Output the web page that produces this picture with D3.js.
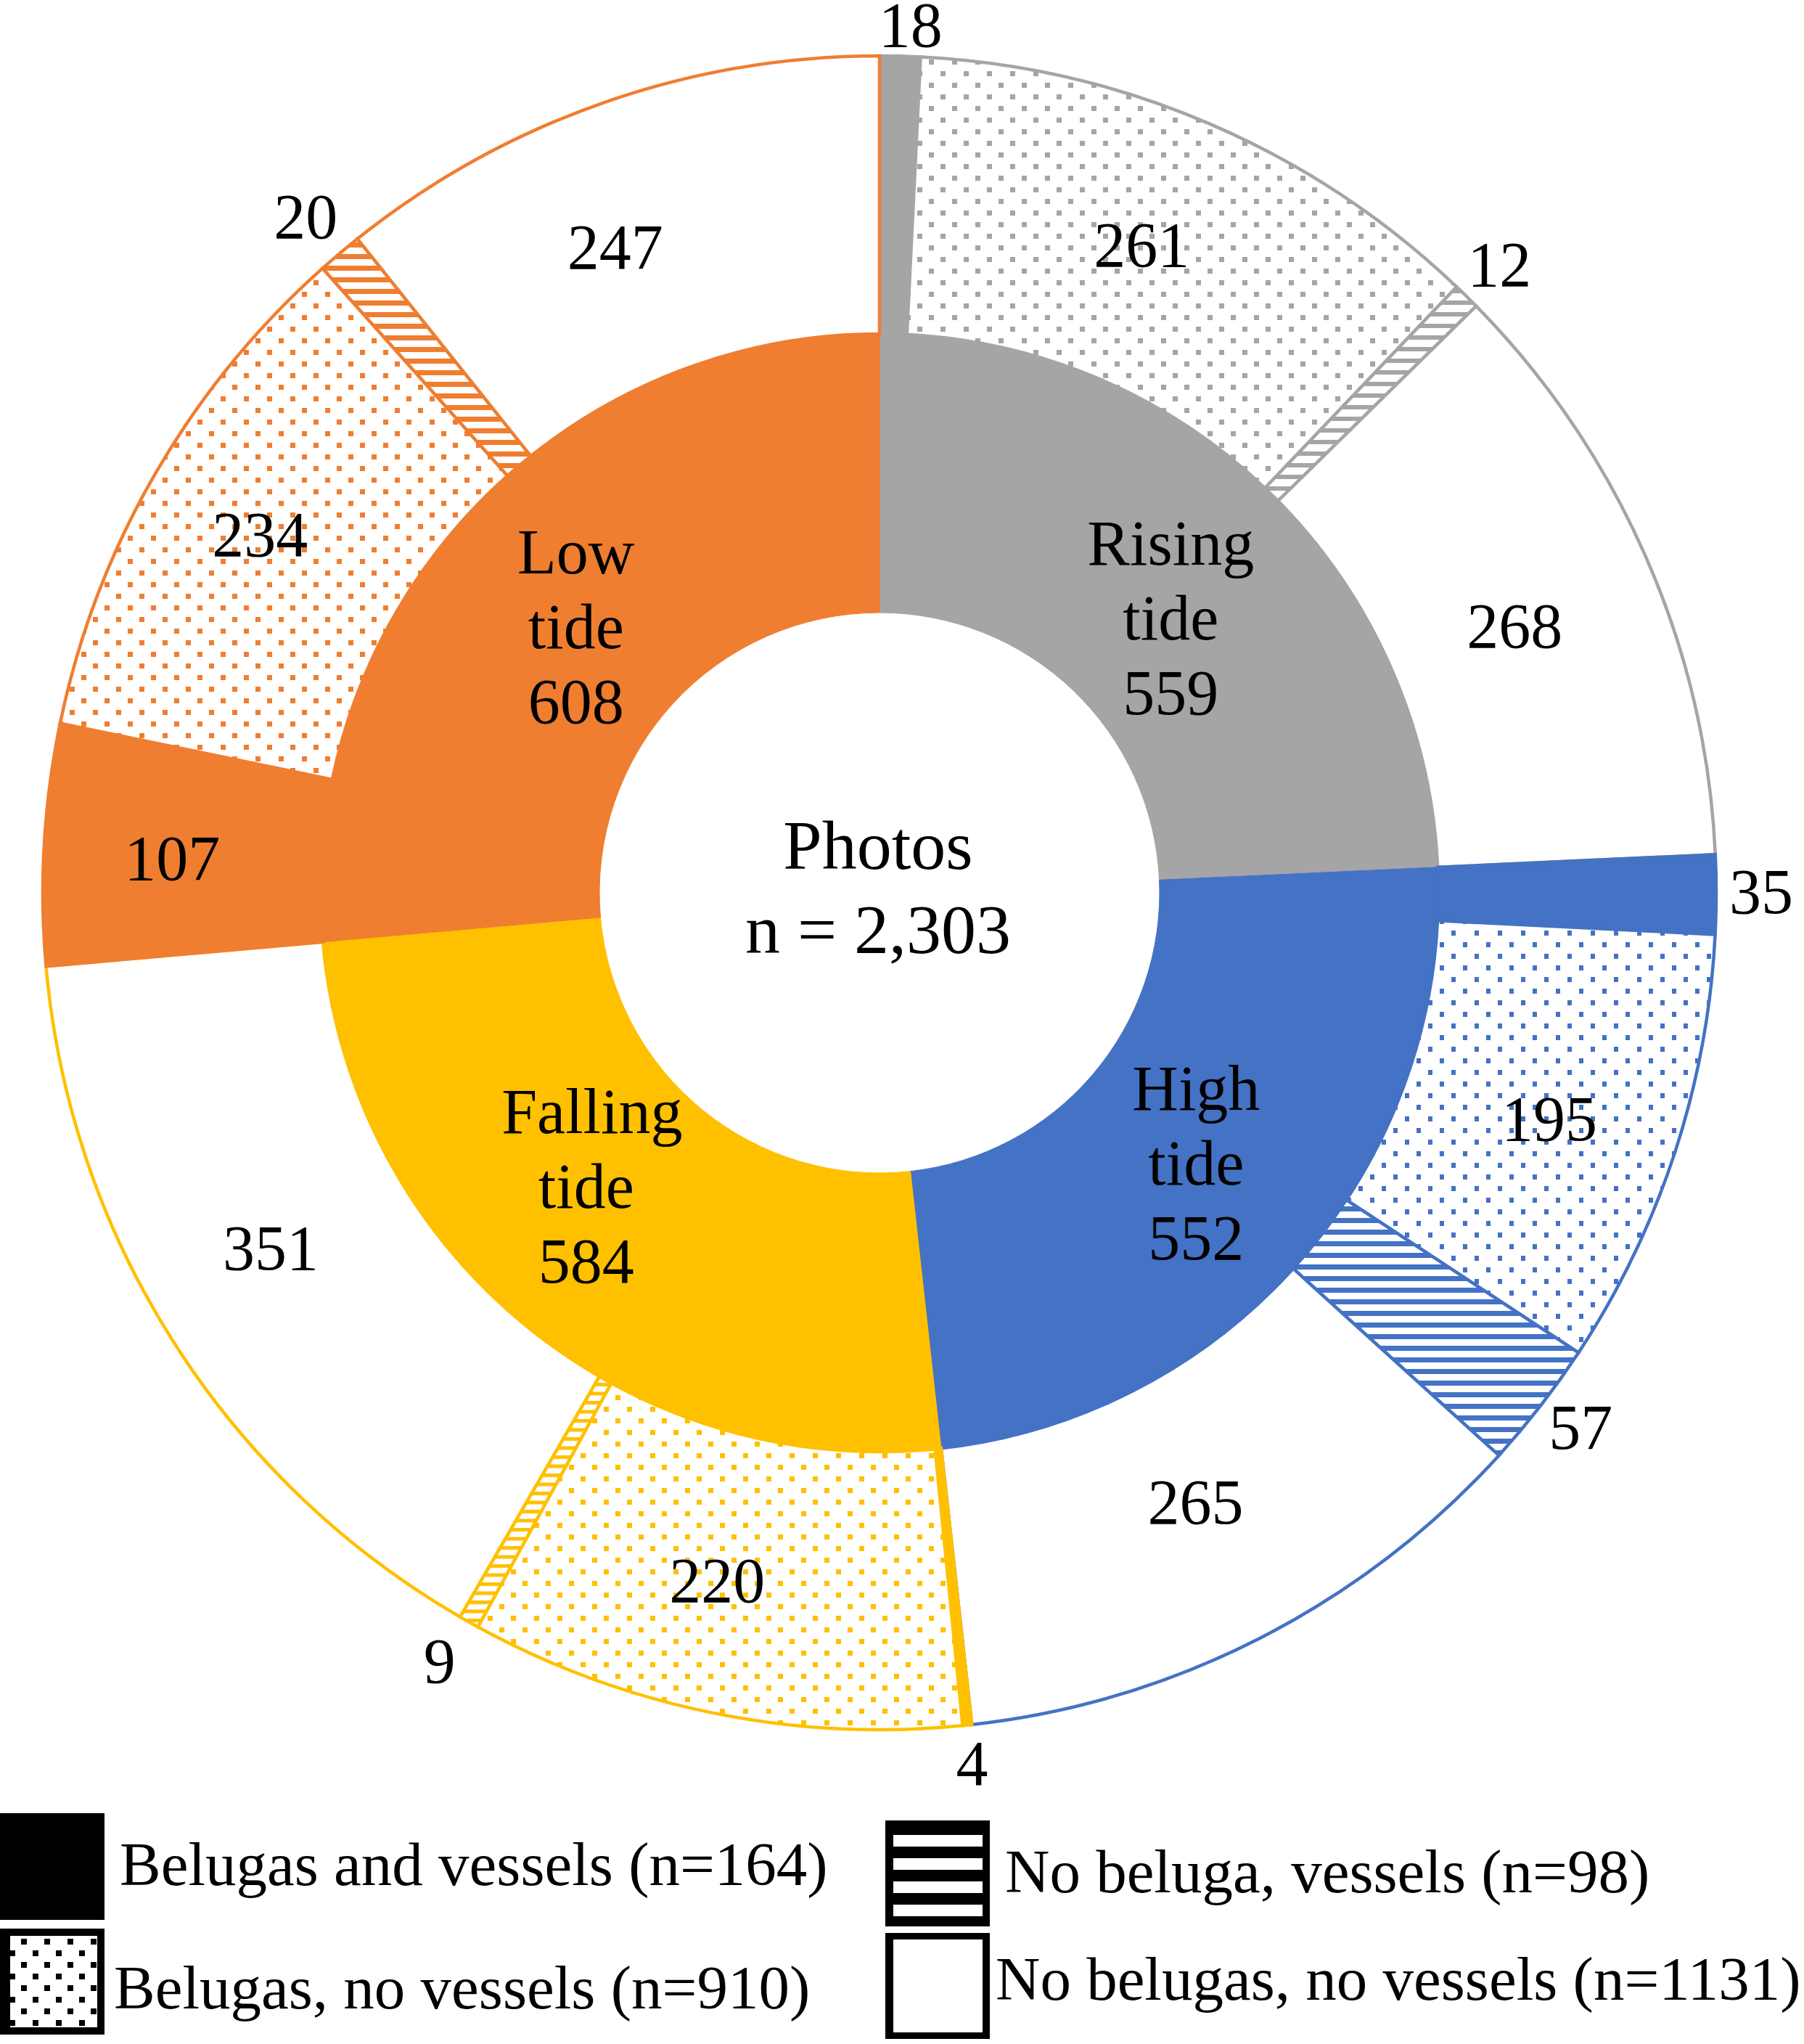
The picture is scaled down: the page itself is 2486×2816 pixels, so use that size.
<!DOCTYPE html>
<html><head><meta charset="utf-8">
<script src="https://cdn.jsdelivr.net/npm/d3@7"></script>
<style>html,body{margin:0;padding:0;background:#fff;} svg{display:block;}</style>
</head><body>
<svg id="chart" width="2486" height="2816"></svg>
<script>
// ---------- DATA ----------
const tides = ["Rising tide", "High tide", "Falling tide", "Low tide"];
const tideTotals = [559, 552, 584, 608];
const categories = ["Belugas and vessels", "Belugas, no vessels", "No beluga, vessels", "No belugas, no vessels"];
const belugasAndVessels  = [18, 35, 4, 107];
const belugasNoVessels   = [261, 195, 220, 234];
const noBelugaVessels    = [12, 57, 9, 20];
const noBelugasNoVessels = [268, 265, 351, 247];
const centerTitle = "Photos";

// ---------- STYLE / LAYOUT ----------
const tideColors = ["#A5A5A5", "#4472C4", "#FFC000", "#EF7E30"];
const W = 2486, H = 2816;
const cx = 1212, cy = 1230;
const rHole = 386, rMid = 770, rOuter = 1153;
const labelFont = "'Liberation Serif','Times New Roman',serif";
const labelSize = 88, lineH = 103;
// nudges of the label anchors (dx, dy), relative to the computed position
const innerLabelNudge = [[2, 39], [-3, -3], [-38, -43], [8, 24]];
const innerLineShift = [[0, 0, 0], [0, 0, 0], [8, 0, 0], [0, 0, 0]];
const outerLabelNudge = [
  [13, 19], [-18, -8], [2, 0], [-7, 17],
  [0, -4], [8, 12], [6, -8], [-2, -18],
  [0, -9], [-32, 4], [-10, 0], [-27, -28],
  [-14, 8], [-20, -13], [-7, -3], [-46, 19]
];
const stripePeriod = [16, 16, 12.5, 16];
const stripeThick = [6, 7, 5, 7];
const dotSize = [[7, 7], [6, 7], [7, 7], [7, 7]];

const series = [belugasAndVessels, belugasNoVessels, noBelugaVessels, noBelugasNoVessels];

const svg = d3.select("#chart");
svg.append("rect").attr("width", W).attr("height", H).attr("fill", "#fff");
const defs = svg.append("defs");

tideColors.forEach((col, i) => {
  const pd = defs.append("pattern").attr("id", "dots" + i)
    .attr("patternUnits", "userSpaceOnUse").attr("width", 32).attr("height", 32);
  pd.append("rect").attr("width", 32).attr("height", 32).attr("fill", "#fff");
  pd.append("rect").attr("x", 4).attr("y", 4).attr("width", dotSize[i][0]).attr("height", dotSize[i][1]).attr("fill", col);
  pd.append("rect").attr("x", 20).attr("y", 20).attr("width", dotSize[i][0]).attr("height", dotSize[i][1]).attr("fill", col);

  const p = stripePeriod[i];
  const ps = defs.append("pattern").attr("id", "stripes" + i)
    .attr("patternUnits", "userSpaceOnUse").attr("width", 32).attr("height", p);
  ps.append("rect").attr("width", 32).attr("height", p).attr("fill", "#fff");
  ps.append("rect").attr("y", 0).attr("width", 32).attr("height", stripeThick[i]).attr("fill", col);
});

// legend patterns
const ld = defs.append("pattern").attr("id", "legDots")
  .attr("patternUnits", "userSpaceOnUse").attr("x", 29).attr("y", 2671).attr("width", 32).attr("height", 32);
ld.append("rect").attr("width", 32).attr("height", 32).attr("fill", "#fff");
ld.append("rect").attr("x", 0).attr("y", 0).attr("width", 8).attr("height", 8).attr("fill", "#000");
ld.append("rect").attr("x", 16).attr("y", 16).attr("width", 8).attr("height", 8).attr("fill", "#000");
const ls = defs.append("pattern").attr("id", "legStripes")
  .attr("patternUnits", "userSpaceOnUse").attr("x", 0).attr("y", 2528).attr("width", 32).attr("height", 32);
ls.append("rect").attr("width", 32).attr("height", 32).attr("fill", "#000");
ls.append("rect").attr("y", 0).attr("width", 32).attr("height", 16).attr("fill", "#fff");

const g = svg.append("g").attr("transform", `translate(${cx},${cy})`);

// ---------- INNER RING ----------
const pie = d3.pie().sort(null).value(d => d.value).startAngle(0).endAngle(2 * Math.PI);
const innerData = pie(tides.map((t, i) => ({ tide: i, name: t, value: tideTotals[i] })));
const innerArc = d3.arc().innerRadius(rHole).outerRadius(rMid);
g.append("g").selectAll("path").data(innerData).join("path")
  .attr("d", innerArc)
  .attr("fill", d => tideColors[d.data.tide])
  .attr("stroke", d => tideColors[d.data.tide])
  .attr("stroke-width", 1);

// ---------- OUTER RING ----------
const outerRows = [];
tides.forEach((t, i) => series.forEach((s, c) => outerRows.push({ tide: i, cat: c, value: s[i] })));
const outerData = pie(outerRows);
const outerArc = d3.arc().innerRadius(rMid).outerRadius(rOuter);
const fillFor = d => {
  const i = d.data.tide;
  if (d.data.cat === 0) return tideColors[i];
  if (d.data.cat === 1) return `url(#dots${i})`;
  if (d.data.cat === 2) return `url(#stripes${i})`;
  return "#fff";
};
g.append("g").selectAll("path").data(outerData).join("path")
  .attr("d", outerArc)
  .attr("fill", fillFor)
  .attr("stroke", d => tideColors[d.data.tide])
  .attr("stroke-width", 4.5)
  .attr("stroke-linejoin", "miter");

// ---------- LABELS ----------
const textG = g.append("g").attr("font-family", labelFont).attr("font-size", labelSize)
  .attr("text-anchor", "middle").attr("fill", "#000");
const midArcIn = d3.arc().innerRadius((rHole + rMid) / 2).outerRadius((rHole + rMid) / 2);
const midArcOut = d3.arc().innerRadius((rMid + rOuter + 2) / 2).outerRadius((rMid + rOuter + 2) / 2);
const farArc = d3.arc().innerRadius(1215).outerRadius(1215);
const base = 0.338 * labelSize;

innerData.forEach((d, i) => {
  const [x, y] = midArcIn.centroid(d);
  const px = x + innerLabelNudge[i][0], py = y + innerLabelNudge[i][1];
  const lines = [d.data.name.split(" ")[0], d.data.name.split(" ")[1], String(d.data.value)];
  const t = textG.append("text");
  lines.forEach((ln, k) => {
    t.append("tspan").attr("x", px + innerLineShift[i][k]).attr("y", py + (k - 1) * lineH + base).text(ln);
  });
});

outerData.forEach((d, j) => {
  const outside = d.data.value < 60;
  const [x, y] = (outside ? farArc : midArcOut).centroid(d);
  textG.append("text")
    .attr("x", x + outerLabelNudge[j][0])
    .attr("y", y + outerLabelNudge[j][1] + base)
    .text(d.data.value);
});

// center text
const grand = d3.sum(tideTotals);
const ct = g.append("g").attr("font-family", labelFont).attr("font-size", 96).attr("text-anchor", "middle");
ct.append("text").attr("x", -2).attr("y", -33).text(centerTitle);
ct.append("text").attr("x", -2).attr("y", 83).text("n = " + d3.format(",")(grand));

// ---------- LEGEND ----------
const legendLayout = [
  { x: 0,    y: 2498, w: 144, h: 147, tx: 165,  ty: 2597 },
  { x: 0,    y: 2657, w: 144, h: 146, tx: 157,  ty: 2767 },
  { x: 1220, y: 2508, w: 144, h: 146, tx: 1385, ty: 2607 },
  { x: 1220, y: 2663, w: 144, h: 146, tx: 1372, ty: 2755 }
];
const lg = svg.append("g").attr("font-family", labelFont).attr("font-size", 85);
categories.forEach((cat, c) => {
  const L = legendLayout[c];
  const n = d3.sum(series[c]);
  lg.append("rect").attr("x", L.x).attr("y", L.y).attr("width", L.w).attr("height", L.h).attr("fill", "#000");
  if (c === 1) {
    lg.append("rect").attr("x", L.x + 14).attr("y", L.y + 10).attr("width", L.w - 24).attr("height", L.h - 20).attr("fill", "url(#legDots)");
  } else if (c === 2) {
    lg.append("rect").attr("x", L.x + 11).attr("y", L.y + 10).attr("width", L.w - 21).attr("height", L.h - 20).attr("fill", "url(#legStripes)");
  } else if (c === 3) {
    lg.append("rect").attr("x", L.x + 11).attr("y", L.y + 9).attr("width", L.w - 21).attr("height", L.h - 18).attr("fill", "#fff");
  }
  lg.append("text").attr("x", L.tx).attr("y", L.ty).text(`${cat} (n=${n})`);
});
</script>
</body></html>
